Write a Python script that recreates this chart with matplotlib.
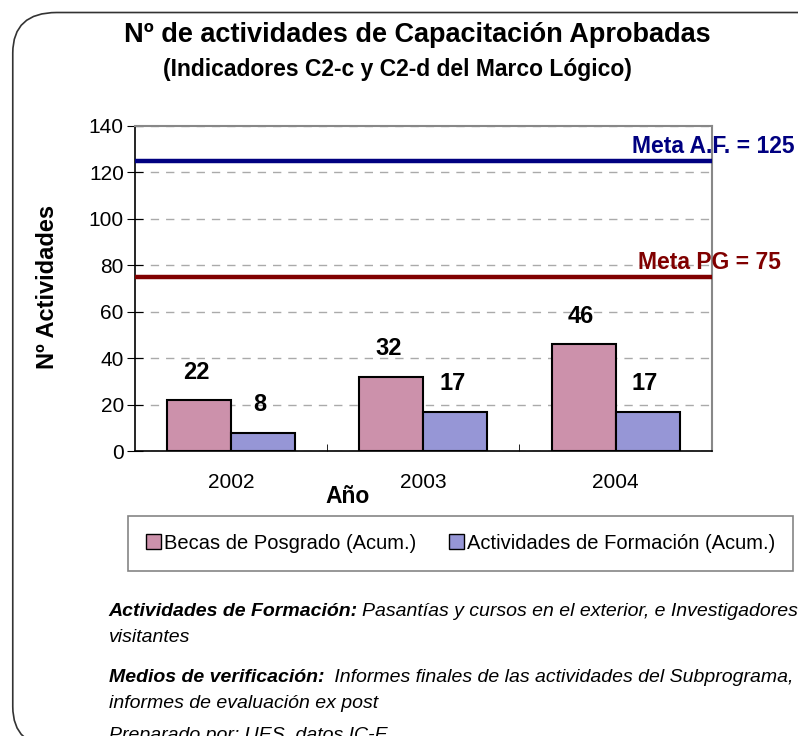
import numpy as np
import matplotlib
matplotlib.use('Agg')
import matplotlib.pyplot as plt
from matplotlib.patches import FancyBboxPatch, Patch

plt.rcParams['font.family'] = ['Liberation Sans', 'DejaVu Sans']

# Data
years = ['2002', '2003', '2004']
becas = [22, 32, 46]
formacion = [8, 17, 17]
meta_af = 125
meta_pg = 75

pink = '#cc91ab'
blue = '#9696d6'

fig = plt.figure(figsize=(7.98, 7.36), dpi=100)

# rounded frame around the whole slide (bottom and right run off the page)
frame = FancyBboxPatch((0.016, -0.015), 1.1, 0.998, boxstyle='round,pad=0,rounding_size=0.055',
                       transform=fig.transFigure, fill=False, edgecolor='#333333', linewidth=1.2)
fig.patches.append(frame)

ax = fig.add_axes([0.169, 0.387, 0.723, 0.442])
x = np.arange(len(years))
w = 1 / 3
ax.bar(x - w / 2, becas, w, color=pink, edgecolor='black', linewidth=1.5, zorder=3)
ax.bar(x + w / 2, formacion, w, color=blue, edgecolor='black', linewidth=1.5, zorder=3)

for xi, v in zip(x - w / 2, becas):
    ax.text(xi - 0.015, v + 12, str(v), ha='center', va='center', fontsize=17, fontweight='bold')
for xi, v in zip(x + w / 2, formacion):
    ax.text(xi - 0.015, v + 12, str(v), ha='center', va='center', fontsize=17, fontweight='bold')

ax.axhline(meta_af, color='#000080', linewidth=3.2, zorder=4)
ax.axhline(meta_pg, color='#800000', linewidth=3.2, zorder=4)
ax.text(2.93, meta_af + 1.2, 'Meta A.F. = 125', color='#000080', fontsize=16.5,
        fontweight='bold', ha='right', va='bottom', clip_on=False)
ax.text(2.86, meta_pg + 1.2, 'Meta PG = 75', color='#800000', fontsize=16.5,
        fontweight='bold', ha='right', va='bottom', clip_on=False)

ax.set_xlim(-0.5, 2.5)
ax.set_ylim(0, 140)
ax.set_yticks(range(0, 141, 20))
ax.set_xticks(x)
ax.set_xticklabels(years)
ax.set_xticks([0.5, 1.5], minor=True)
ax.tick_params(axis='x', which='major', length=0, pad=16, labelsize=15)
ax.tick_params(axis='x', which='minor', length=5, direction='in')
ax.tick_params(axis='y', labelsize=15, direction='inout', length=12, pad=2)
ax.grid(axis='y', linestyle=(0, (6, 5)), color='#aaaaaa', linewidth=1, zorder=0)
for s in ['top', 'right']:
    ax.spines[s].set_color('#888888')
    ax.spines[s].set_linewidth(1.5)
for s in ['left', 'bottom']:
    ax.spines[s].set_color('black')
    ax.spines[s].set_linewidth(1.2)

fig.text(0.06, 0.61, 'Nº Actividades', rotation=90, ha='center', va='center',
         fontsize=17, fontweight='bold')
fig.text(0.435, 0.326, 'Año', ha='center', va='center', fontsize=16.5, fontweight='bold')

fig.text(0.523, 0.952, 'Nº de actividades de Capacitación Aprobadas', ha='center', va='center',
         fontsize=19.5, fontweight='bold')
fig.text(0.498, 0.905, '(Indicadores C2-c y C2-d del Marco Lógico)', ha='center', va='center',
         fontsize=16.5, fontweight='bold')

handles = [Patch(facecolor=pink, edgecolor='black', label='Becas de Posgrado (Acum.)'),
           Patch(facecolor=blue, edgecolor='black', label='Actividades de Formación (Acum.)')]
leg = fig.legend(handles=handles, loc='center', bbox_to_anchor=(0.577, 0.262), ncol=2,
                 fontsize=14.5, frameon=True, fancybox=False, edgecolor='#666666',
                 handlelength=0.75, handleheight=0.75, handletextpad=0.15, columnspacing=1.6,
                 borderpad=0.9)
leg.get_frame().set_linewidth(1.2)

# footnotes: bold italic label followed by italic text
fig.canvas.draw()
renderer = fig.canvas.get_renderer()


def note(y, bold, rest):
    t = fig.text(0.136, y, bold, fontsize=14, fontweight='bold', fontstyle='italic', va='center')
    bb = t.get_window_extent(renderer=renderer)
    fig.text(bb.x1 / fig.bbox.width + 0.006, y, rest, fontsize=14, fontstyle='italic', va='center')


note(0.169, 'Actividades de Formación:', 'Pasantías y cursos en el exterior, e Investigadores')
fig.text(0.136, 0.134, 'visitantes', fontsize=14, fontstyle='italic', va='center')
note(0.08, 'Medios de verificación:', ' Informes finales de las actividades del Subprograma,')
fig.text(0.136, 0.044, 'informes de evaluación ex post', fontsize=14, fontstyle='italic', va='center')
fig.text(0.136, 0.0, 'Preparado por: UES, datos IC-E', fontsize=14, fontstyle='italic', va='center')

fig.savefig('out.png', dpi=100)
